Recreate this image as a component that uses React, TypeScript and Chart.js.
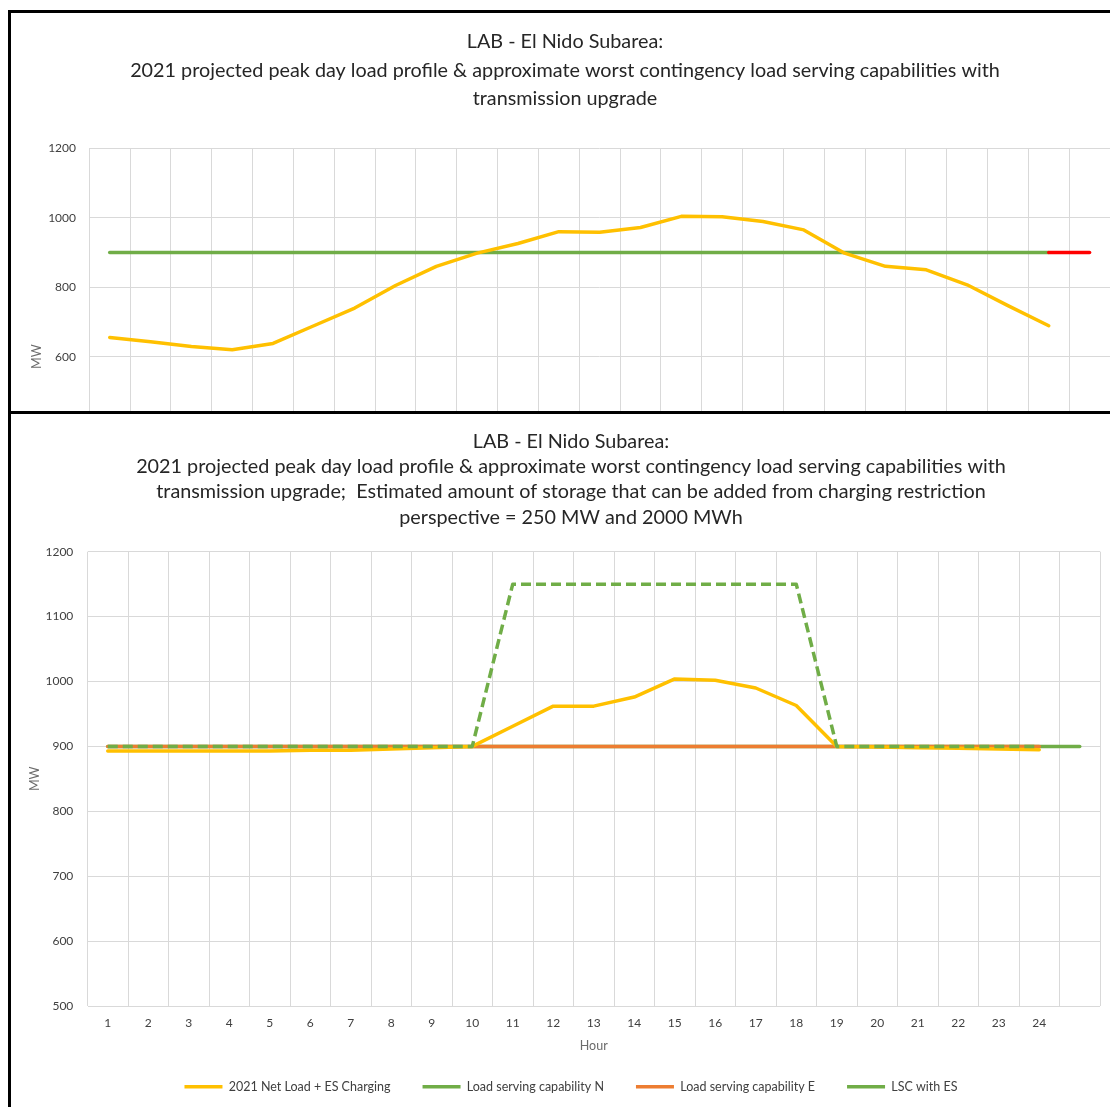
import { useEffect, useRef } from "react";
import { Chart, registerables } from "chart.js";

Chart.register(...registerables);

const FONT = "Lato, 'Open Sans', 'DejaVu Sans', sans-serif";

// ---------- data ----------
const hourLabels = ["1", "2", "3", "4", "5", "6", "7", "8", "9", "10", "11", "12", "13", "14", "15", "16", "17", "18", "19", "20", "21", "22", "23", "24", ""];

const topTitle = [
  "LAB - El Nido Subarea:",
  "2021 projected peak day load profile & approximate worst contingency load serving capabilities with",
  "transmission upgrade",
];
const topNetLoad = [655, 643, 629, 620, 638, 689, 740, 805, 860, 898, 926, 960, 958, 972, 1004, 1003, 989, 965, 898, 860, 850, 807, 747, 689, null];
const topCapabilityN = [900, 900, 900, 900, 900, 900, 900, 900, 900, 900, 900, 900, 900, 900, 900, 900, 900, 900, 900, 900, 900, 900, 900, 900, null];
const topCapabilityExt = [null, null, null, null, null, null, null, null, null, null, null, null, null, null, null, null, null, null, null, null, null, null, null, 900, 900];

const bottomTitle = [
  "LAB - El Nido Subarea:",
  "2021 projected peak day load profile & approximate worst contingency load serving capabilities with",
  "transmission upgrade;  Estimated amount of storage that can be added from charging restriction",
  "perspective = 250 MW and 2000 MWh",
];
const bottomNetLoadES = [893, 893, 893, 893, 893, 894, 894, 896, 898, 900, 931, 962, 962, 976, 1004, 1002, 990, 963, 900, 899, 898, 897, 896, 895, null];
const bottomCapabilityN = [900, 900, 900, 900, 900, 900, 900, 900, 900, 900, 900, 900, 900, 900, 900, 900, 900, 900, 900, 900, 900, 900, 900, 900, 900];
const bottomCapabilityE = [900, 900, 900, 900, 900, 900, 900, 900, 900, 900, 900, 900, 900, 900, 900, 900, 900, 900, 900, 900, 900, 900, 900, 900, null];
const bottomLscWithES = [900, 900, 900, 900, 900, 900, 900, 900, 900, 900, 1150, 1150, 1150, 1150, 1150, 1150, 1150, 1150, 900, 900, 900, 900, 900, 900, null];

const YELLOW = "#FFC000";
const GREEN = "#70AD47";
const ORANGE = "#ED7D31";
const RED = "#FF0000";
const GRID = "#D9D9D9";
const TICK = "#404040";
const AXIS_TITLE = "#6b6b6b";
const TITLE = "#262626";

const plainNumber = (v: any) => String(v);

function lineDs(label: string, data: (number | null)[], color: string, order: number, extra: any = {}) {
  return {
    label,
    data,
    borderColor: color,
    backgroundColor: color,
    borderWidth: 3.5,
    pointRadius: 0,
    pointHoverRadius: 0,
    tension: 0,
    borderJoinStyle: "round",
    borderCapStyle: "round",
    order,
    ...extra,
  };
}

function TopChart() {
  const ref = useRef<HTMLCanvasElement>(null);
  useEffect(() => {
    const chart = new Chart(ref.current as HTMLCanvasElement, {
      type: "line",
      data: {
        labels: hourLabels,
        datasets: [
          lineDs("2021 Net Load", topNetLoad, YELLOW, 0),
          lineDs("Load serving capability N", topCapabilityN, GREEN, 2),
          lineDs("Load serving capability E", topCapabilityExt, RED, 1),
        ] as any,
      },
      options: {
        responsive: false,
        animation: false,
        events: [],
        layout: { padding: { left: 9, right: 9, top: 0, bottom: 0 } },
        plugins: {
          legend: { display: false },
          tooltip: { enabled: false },
          title: {
            display: true,
            text: topTitle,
            color: TITLE,
            font: { family: FONT, size: 19.8, weight: "normal", lineHeight: "28.5px" },
            padding: { top: 14.75, bottom: 35.05 },
          },
        },
        scales: {
          x: {
            offset: true,
            grid: { offset: true, color: GRID, lineWidth: 1, drawTicks: false },
            border: { display: false },
            ticks: { color: TICK, font: { family: FONT, size: 12 }, padding: 9.5, autoSkip: false, maxRotation: 0 },
            title: { display: true, text: "Hour", color: AXIS_TITLE, font: { family: FONT, size: 12.5 } },
            afterFit: (s: any) => {
              s.height = 68;
            },
          },
          y: {
            min: 0,
            max: 1200,
            grid: { color: GRID, lineWidth: 1, drawTicks: false },
            border: { display: false },
            ticks: { stepSize: 200, color: TICK, font: { family: FONT, size: 12 }, padding: 13.3, callback: plainNumber },
            title: {
              display: true,
              text: "MW",
              color: AXIS_TITLE,
              font: { family: FONT, size: 12.5, lineHeight: "15px" },
              padding: { top: 9.5, bottom: 0 },
            },
            afterFit: (s: any) => {
              s.width = 69.3;
            },
          },
        },
      } as any,
    });
    return () => chart.destroy();
  }, []);
  return <canvas ref={ref} width={1108} height={620} style={{ display: "block", width: 1108, height: 620 }} />;
}

function BottomChart() {
  const ref = useRef<HTMLCanvasElement>(null);
  useEffect(() => {
    const chart = new Chart(ref.current as HTMLCanvasElement, {
      type: "line",
      data: {
        labels: hourLabels,
        datasets: [
          lineDs("2021 Net Load + ES Charging", bottomNetLoadES, YELLOW, 1),
          lineDs("Load serving capability N", bottomCapabilityN, GREEN, 3),
          lineDs("Load serving capability E", bottomCapabilityE, ORANGE, 2),
          lineDs("LSC with ES", bottomLscWithES, GREEN, 0, { borderDash: [10, 5], borderCapStyle: "butt" }),
        ] as any,
      },
      options: {
        responsive: false,
        animation: false,
        events: [],
        layout: { padding: { left: 30, right: 30, top: 0, bottom: 0 } },
        plugins: {
          tooltip: { enabled: false },
          legend: {
            position: "bottom",
            labels: {
              usePointStyle: true,
              pointStyle: "line",
              pointStyleWidth: 38,
              padding: 32,
              color: TICK,
              font: { family: FONT, size: 12.5 },
              sort: (a: any, b: any) => a.datasetIndex - b.datasetIndex,
            },
          },
          title: {
            display: true,
            text: bottomTitle,
            color: TITLE,
            font: { family: FONT, size: 19.8, weight: "normal", lineHeight: "25.3px" },
            padding: { top: 14.85, bottom: 21.65 },
          },
        },
        scales: {
          x: {
            offset: true,
            grid: { offset: true, color: GRID, lineWidth: 1, drawTicks: false },
            border: { display: false },
            ticks: { color: TICK, font: { family: FONT, size: 12 }, padding: 9.5, autoSkip: false, maxRotation: 0 },
            title: {
              display: true,
              text: "Hour",
              color: AXIS_TITLE,
              font: { family: FONT, size: 12.5, lineHeight: "15px" },
              padding: { top: 0, bottom: -5 },
            },
            afterFit: (s: any) => {
              s.height = 42.5;
            },
          },
          y: {
            min: 500,
            max: 1200,
            grid: { color: GRID, lineWidth: 1, drawTicks: false },
            border: { display: false },
            ticks: { stepSize: 100, color: TICK, font: { family: FONT, size: 12 }, padding: 14.2, callback: plainNumber },
            title: {
              display: true,
              text: "MW",
              color: AXIS_TITLE,
              font: { family: FONT, size: 12.5, lineHeight: "15px" },
              padding: { top: -14.5, bottom: 0 },
            },
            afterFit: (s: any) => {
              s.width = 45.5;
            },
          },
        },
      } as any,
    });
    return () => chart.destroy();
  }, []);
  return <canvas ref={ref} width={1118} height={689} style={{ display: "block", width: 1118, height: 689 }} />;
}

export default function App() {
  return (
    <div style={{ position: "absolute", left: 0, top: 0, width: 1110, height: 1107, background: "#fff", overflow: "hidden" }}>
      <div style={{ position: "absolute", left: 11, top: 13, width: 1099, height: 398, overflow: "hidden" }}>
        <TopChart />
      </div>
      <div style={{ position: "absolute", left: 12, top: 414, width: 1098, height: 693, overflow: "hidden" }}>
        <BottomChart />
      </div>
      <div style={{ position: "absolute", left: 8, top: 10, width: 1102, height: 3, background: "#000" }} />
      <div style={{ position: "absolute", left: 8, top: 10, width: 3, height: 1097, background: "#000" }} />
      <div style={{ position: "absolute", left: 8, top: 411, width: 1102, height: 3, background: "#000" }} />
    </div>
  );
}
